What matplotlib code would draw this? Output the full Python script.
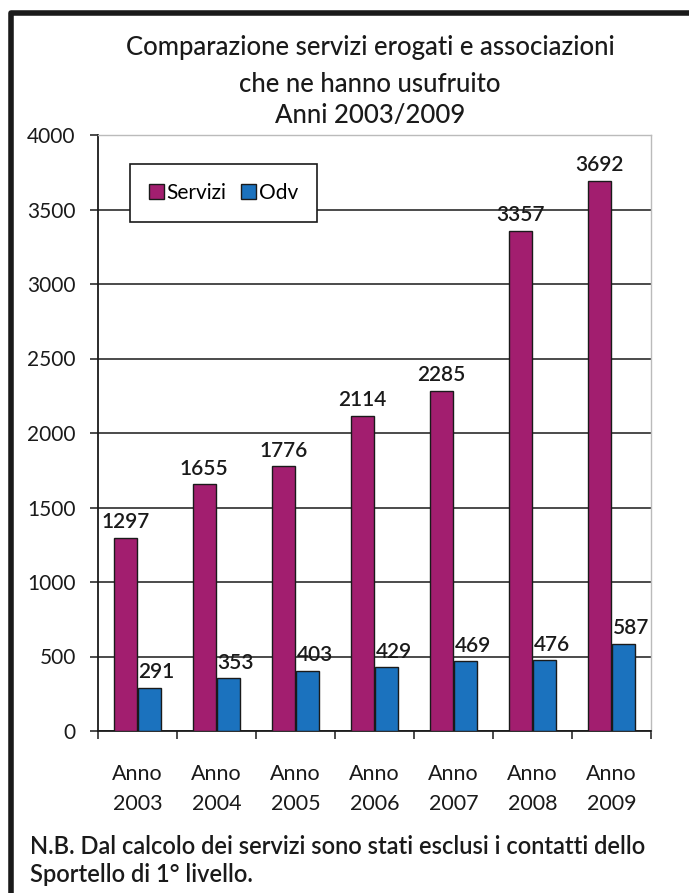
import matplotlib
matplotlib.use("Agg")
import matplotlib.pyplot as plt
import numpy as np
from matplotlib.lines import Line2D

years = ["2003", "2004", "2005", "2006", "2007", "2008", "2009"]
servizi = [1297, 1655, 1776, 2114, 2285, 3357, 3692]
odv = [291, 353, 403, 429, 469, 476, 587]
yticks = [0, 500, 1000, 1500, 2000, 2500, 3000, 3500, 4000]

plt.rcParams['font.family'] = ['Lato', 'DejaVu Sans']

W, H = 689, 893
fig = plt.figure(figsize=(W / 100, H / 100), dpi=100)
fig.patch.set_facecolor('white')

def fx(px):
    return px / W

def fy(py):
    return 1 - py / H

# outer frame (only left and top edges are visible)
fig.add_artist(Line2D([fx(10.5), fx(10.5), fx(W + 10)], [fy(H + 10), fy(13), fy(13)],
                      transform=fig.transFigure, color='#1a1a1a', linewidth=4,
                      solid_joinstyle='round'))

ax = fig.add_axes([fx(98), fy(731), fx(651) - fx(98), fy(135) - fy(731)])

x = np.arange(len(years))
w = 0.29
off = 0.155
b1 = ax.bar(x - off, servizi, w, color='#A21E6F', edgecolor='#1a1a1a', linewidth=1.0,
            label='Servizi', zorder=3)
b2 = ax.bar(x + off, odv, w, color='#1B72BE', edgecolor='#1a1a1a', linewidth=1.0,
            label='Odv', zorder=3)

for rect, v in zip(b1, servizi):
    ax.annotate(str(v), (rect.get_x() + rect.get_width() / 2, v), xytext=(0, 4),
                textcoords='offset points', ha='center', va='bottom',
                fontsize=15, fontweight='semibold', color='#1a1a1a', zorder=4)
for rect, v in zip(b2, odv):
    ax.annotate(str(v), (rect.get_x() + rect.get_width() / 2, v), xytext=(5, 4),
                textcoords='offset points', ha='center', va='bottom',
                fontsize=15, fontweight='semibold', color='#1a1a1a', zorder=4)

ax.set_xlim(-0.5, len(years) - 0.5)
ax.set_ylim(0, 4000)
ax.set_yticks(yticks)
ax.set_yticklabels([str(t) for t in yticks], fontsize=15, color='#1a1a1a')
ax.yaxis.grid(True, color='#1a1a1a', linewidth=1.1, zorder=0)
ax.set_axisbelow(True)
ax.tick_params(axis='y', length=6, width=1.1, color='#1a1a1a', pad=10)

ax.set_xticks(np.arange(len(years) + 1) - 0.5)
ax.set_xticklabels([])
ax.set_xticks(x, minor=True)
ax.set_xticklabels(["Anno\n" + y for y in years], minor=True, fontsize=15.5,
                   color='#1a1a1a', linespacing=1.58)
ax.tick_params(axis='x', which='major', length=6, width=1.1, color='#1a1a1a',
               direction='out')
ax.tick_params(axis='x', which='minor', length=0, pad=24)

for s in ['top', 'right']:
    ax.spines[s].set_color('#bbbbbb')
    ax.spines[s].set_linewidth(1.0)
for s in ['left', 'bottom']:
    ax.spines[s].set_color('#1a1a1a')
    ax.spines[s].set_linewidth(1.3)

leg = ax.legend(loc='center', bbox_to_anchor=(fx(128), fy(227), fx(319) - fx(128), fy(159) - fy(227)),
                bbox_transform=fig.transFigure, ncol=2, fontsize=15, frameon=True,
                fancybox=False, handlelength=0.7, handleheight=0.7, handletextpad=0.15,
                columnspacing=0.7, borderpad=0.9)
leg.get_frame().set_edgecolor('#1a1a1a')
leg.get_frame().set_linewidth(1.2)
leg.get_frame().set_facecolor('white')
leg.get_frame().set_alpha(1)

title_lines = ["Comparazione servizi erogati e associazioni",
               "che ne hanno usufruito",
               "Anni 2003/2009"]
for line, yy in zip(title_lines, [48, 84, 116]):
    fig.text(fx(370), fy(yy), line, ha='center', va='center',
             fontsize=18.5, fontweight='medium', color='#1a1a1a')

fig.text(fx(30), fy(846), "N.B. Dal calcolo dei servizi sono stati esclusi i contatti dello",
         ha='left', va='center', fontsize=17, fontweight='semibold', color='#1a1a1a')
fig.text(fx(30), fy(874), "Sportello di 1° livello.", ha='left', va='center',
         fontsize=17, fontweight='semibold', color='#1a1a1a')

fig.savefig('out.png', dpi=100, facecolor='white')
